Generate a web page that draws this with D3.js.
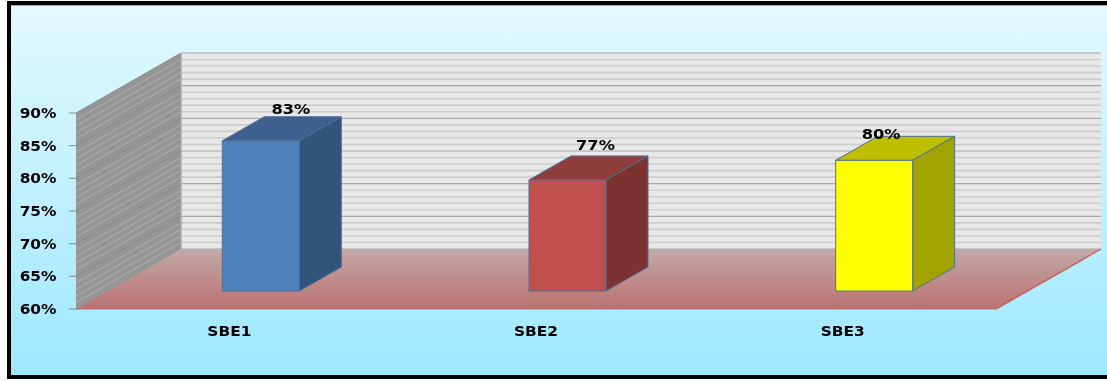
<!DOCTYPE html>
<html><head><meta charset="utf-8"><script src="https://cdn.jsdelivr.net/npm/d3@7"></script>
<style>html,body{margin:0;padding:0;background:#fff}svg{display:block}</style></head><body><div id="c"></div>
<script>
const categories = ["SBE1","SBE2","SBE3"];
const values = [83,77,80];
const valueLabels = ["83%","77%","80%"];
const majorTicks = [60,65,70,75,80,85,90];
const minorTicks = d3.range(60,91);
const faceColors = ["#4f81bd","#c0504d","#ffff00"];
const topColors = ["#3c618e","#8f3c3a","#bfbf00"];
const sideColors = ["#32527b","#7d3331","#a3a300"];

const W=1107,H=381;
const root=d3.select("#c").append("svg").attr("width",W).attr("height",H);
const defs=root.append("defs");
const bg=defs.append("linearGradient").attr("id","bg").attr("x1",0).attr("y1",0).attr("x2",0).attr("y2",1);
bg.append("stop").attr("offset",0).attr("stop-color","#e3f9ff");
bg.append("stop").attr("offset",1).attr("stop-color","#9de8ff");
const fl=defs.append("linearGradient").attr("id","fl").attr("x1",0).attr("y1",0).attr("x2",0).attr("y2",1);
fl.append("stop").attr("offset",0).attr("stop-color","#c2a8a8");
fl.append("stop").attr("offset",1).attr("stop-color","#bb7270");
defs.append("filter").attr("id","soft").attr("filterUnits","userSpaceOnUse")
  .attr("x",0).attr("y",0).attr("width",W).attr("height",H)
  .append("feGaussianBlur").attr("stdDeviation",0.6);

root.append("rect").attr("width",W).attr("height",H).attr("fill","#fff");
root.append("rect").attr("x",9).attr("y",3).attr("width",W).attr("height",374)
  .attr("fill","url(#bg)").attr("stroke","#000").attr("stroke-width",4);
root.append("line").attr("x1",11).attr("x2",W).attr("y1",5.5).attr("y2",5.5).attr("stroke","#5bc4dc");
const svg=root.append("g").attr("filter","url(#soft)");

const y=d3.scaleLinear().domain([60,90]).range([309,113]);
const x=d3.scaleBand().domain(categories).range([76,996]);
const DX=105,DY=-60;
const proj=(px,py,dz)=>[px+DX*dz,py+DY*dz];
const poly=p=>p.map(a=>a.join(",")).join(" ");
const x0=x.range()[0],x1=x.range()[1];
const yB=y(60),yT=y(90);

svg.append("polygon").attr("points",poly([proj(x0,yT,1),proj(x1,yT,1),proj(x1,yB,1),proj(x0,yB,1)])).attr("fill","#e8e8e8");
svg.append("polygon").attr("points",poly([proj(x0,yT,0),proj(x0,yT,1),proj(x0,yB,1),proj(x0,yB,0)])).attr("fill","#959595");
const isMajor=d=>majorTicks.includes(d);
svg.append("g").selectAll("line").data(minorTicks).join("line")
  .attr("x1",d=>proj(x0,y(d),1)[0]).attr("y1",d=>proj(x0,y(d),1)[1])
  .attr("x2",d=>proj(x1,y(d),1)[0]).attr("y2",d=>proj(x1,y(d),1)[1])
  .attr("stroke",d=>isMajor(d)?"#a8a8a8":"#cccccc").attr("stroke-width",d=>isMajor(d)?1.2:1.6);
svg.append("g").selectAll("line").data(minorTicks).join("line")
  .attr("x1",d=>proj(x0,y(d),0)[0]).attr("y1",d=>proj(x0,y(d),0)[1])
  .attr("x2",d=>proj(x0,y(d),1)[0]).attr("y2",d=>proj(x0,y(d),1)[1])
  .attr("stroke",d=>isMajor(d)?"#8c8c8c":"#b0b0b0").attr("stroke-width",1);
svg.append("line").attr("x1",x0+DX).attr("x2",x0+DX).attr("y1",yT+DY).attr("y2",yB+DY).attr("stroke","#aaa").attr("stroke-width",1.5);
svg.append("polygon").attr("points",poly([proj(x0,yB,0),proj(x0,yB,1),proj(x1,yB,1),proj(x1,yB,0)])).attr("fill","url(#fl)");
svg.append("line").attr("x1",x1).attr("y1",yB).attr("x2",x1+DX).attr("y2",yB+DY).attr("stroke","#c8605c").attr("stroke-width",1.4);
svg.append("line").attr("x1",x0).attr("y1",yB+.5).attr("x2",x1).attr("y2",yB+.5).attr("stroke","#9fb6c2").attr("stroke-width",1);
svg.append("g").selectAll("line").data(majorTicks).join("line")
  .attr("x1",x0-7).attr("x2",x0).attr("y1",d=>y(d)).attr("y2",d=>y(d)).attr("stroke","#888");

function label(sel,cx,cy,anchor,sx=1.1){
  sel.attr("transform",`translate(${cx},${cy}) scale(${sx},1)`).attr("text-anchor",anchor)
   .attr("font-family","'DejaVu Sans',sans-serif").attr("font-weight","bold").attr("font-size",14).attr("fill","#000");
}
svg.append("g").selectAll("text").data(majorTicks).join("text").text(d=>d+"%")
  .each(function(d){label(d3.select(this),56.5,y(d)+5,"end")});
svg.append("g").selectAll("text").data(categories).join("text").text(d=>d)
  .each(function(d){label(d3.select(this),x(d)+x.bandwidth()/2,y(60)+27,"middle")});

const bw=77,z0=0.3,z1=0.7;
const labelShiftX=[-12,-14,-35], labelShiftY=[-3,-6,3];
const bars=svg.append("g").selectAll("g").data(categories).join("g");
bars.each(function(c,i){
  const g=d3.select(this),cx=x(c)+x.bandwidth()/2,l=cx-bw/2,r=cx+bw/2,t=y(values[i]),b=y(60);
  const style=s=>s.attr("stroke","#4f6f93").attr("stroke-width",1).attr("stroke-linejoin","round");
  const P=(a,v,z)=>proj(a,v,z);
  style(g.append("polygon").attr("points",poly([P(l,t,z0),P(l,t,z1),P(r,t,z1),P(r,t,z0)])).attr("fill",topColors[i]));
  style(g.append("polygon").attr("points",poly([P(r,t,z0),P(r,t,z1),P(r,b,z1),P(r,b,z0)])).attr("fill",sideColors[i]));
  style(g.append("polygon").attr("points",poly([P(l,t,z0),P(r,t,z0),P(r,b,z0),P(l,b,z0)])).attr("fill",faceColors[i]));
  const q=P(cx,t,z1);
  g.append("text").text(valueLabels[i]).call(label,q[0]+labelShiftX[i],q[1]+labelShiftY[i],"middle",1.16);
});
</script></body></html>
